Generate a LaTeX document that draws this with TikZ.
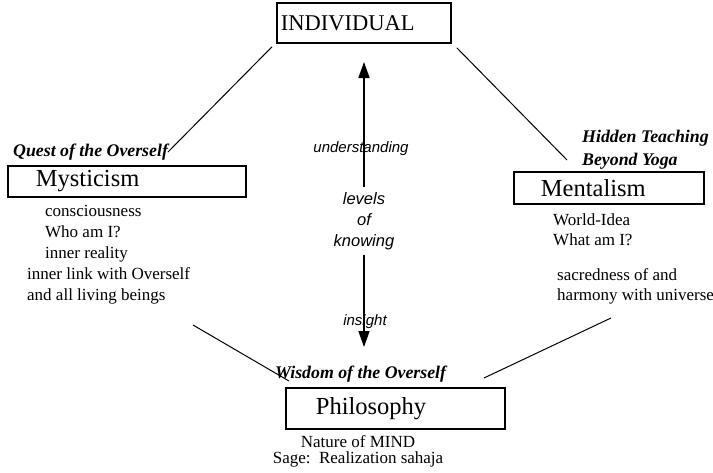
\documentclass[tikz,border=0pt]{standalone}
\usepackage{fontspec}
\setmainfont{Liberation Serif}
\setsansfont{Liberation Sans}
\usetikzlibrary{arrows.meta}

\tikzset{
  box/.style={draw, line width=1.8pt, anchor=north west, align=left, inner ysep=0pt,
    font=\fontsize{24.5}{24}\selectfont},
  item/.style={anchor=base west, inner sep=0pt, font=\fontsize{17}{18}\selectfont},
  title/.style={anchor=base west, inner sep=0pt, font=\fontsize{17.8}{20}\selectfont\bfseries\itshape},
  level/.style={inner sep=0pt, font=\fontsize{15}{18}\selectfont\sffamily\itshape},
  link/.style={line width=1pt},
  updown/.style={line width=1.6pt, -{Triangle[width=11pt,length=16pt]}}
}

\begin{document}
\begin{tikzpicture}[x=1pt,y=-1pt]
\useasboundingbox (0,0) rectangle (713,472);

% the four boxes
\node[box, font=\fontsize{22.5}{22}\selectfont, minimum height=40pt, text width=166pt, inner xsep=4pt] (indiv) at (276,2) {INDIVIDUAL};
\node[box, minimum height=31pt, text width=182pt, inner xsep=28pt] (myst) at (7,165) {Mysticism};
\node[box, minimum height=32pt, text width=136pt, inner xsep=27pt] (ment) at (513,171) {Mentalism};
\node[box, minimum height=41pt, text width=159pt, inner xsep=30pt] (phil) at (285,387) {Philosophy};

% book titles
\node[title] (quest) at (13,156) {Quest of the Overself};
\node[title] (hidden) at (582,142) {Hidden Teaching};
\node[title] (beyond) at (582,165) {Beyond Yoga};
\node[title] (wisdom) at (275,378) {Wisdom of the Overself};

% notes under the boxes
\foreach \y/\x/\t [count=\i] in {216/45/consciousness, 237/45/Who am I?, 258/45/inner reality,
    279/27/inner link with Overself, 300/27/and all living beings}
  \node[item] (myst\i) at (\x,\y) {\t};
\foreach \y/\x/\t [count=\i] in {225/553/World-Idea, 245/553/What am I?,
    280/557/sacredness of and, 300/557/harmony with universe}
  \node[item] (ment\i) at (\x,\y) {\t};
\node[item, anchor=base] (nature) at (358,447) {Nature of MIND};
\node[item, anchor=base] (sage) at (358,463) {Sage:\ \ Realization sahaja};

% levels of knowing
\node[level, font=\fontsize{16.5}{21}\selectfont\sffamily\itshape, align=center, inner ysep=5pt] (know) at (364,221) {levels\\of\\knowing};
\node[level, anchor=base] (under) at (361,152) {understanding};
\node[level, anchor=base] (insight) at (365,325) {insight};
\coordinate (uptip) at (364,62);
\coordinate (downtip) at (364,347);
\draw[updown] (know) -- (uptip);
\draw[updown] (know) -- (downtip);

% links
\coordinate (ql) at (168,152);
\coordinate (hr) at (567,160);
\coordinate (ll) at (193,325);
\coordinate (wl) at (289,381);
\coordinate (lr) at (611,318);
\coordinate (wr) at (484,378);
\draw[link] ([shift={(-4,3)}]indiv.south west) -- (ql);
\draw[link] ([shift={(5,4)}]indiv.south east) -- (hr);
\draw[link] (ll) -- (wl);
\draw[link] (lr) -- (wr);
\end{tikzpicture}
\end{document}
